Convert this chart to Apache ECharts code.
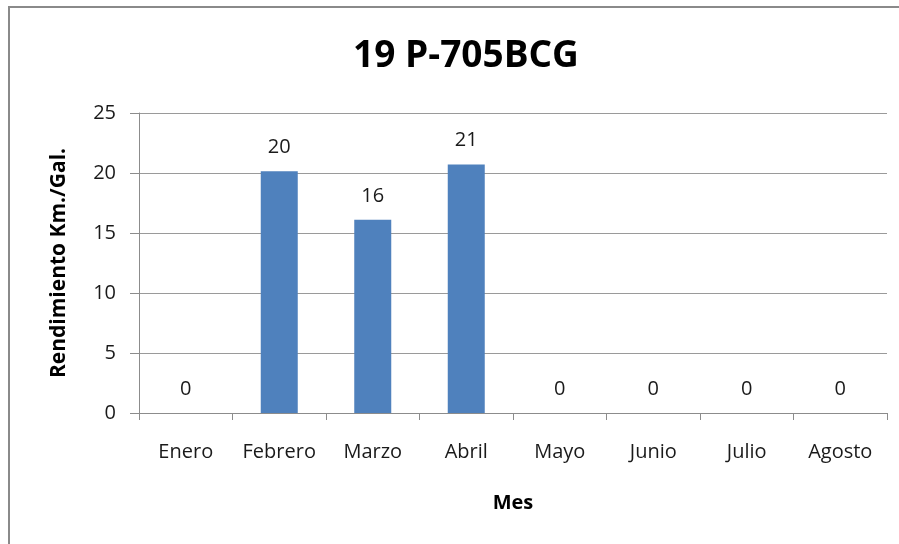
<!DOCTYPE html>
<html>
<head>
<meta charset="utf-8">
<script src="https://cdn.jsdelivr.net/npm/echarts@6/dist/echarts.min.js"></script>
<style>
  html, body { margin: 0; padding: 0; background: #fff; }
  #chart { width: 899px; height: 544px; }
</style>
</head>
<body>
<div id="chart"></div>
<script>
// Monthly fuel efficiency for unit 19 P-705BCG
const months = ['Enero', 'Febrero', 'Marzo', 'Abril', 'Mayo', 'Junio', 'Julio', 'Agosto'];
const rendimiento = [0, 20.15, 16.1, 20.7, 0, 0, 0, 0];
const yTicks = { min: 0, max: 25, interval: 5 };

const FONT = '"Open Sans"';
const chart = echarts.init(document.getElementById('chart'), null, { renderer: 'canvas' });

chart.setOption({
  backgroundColor: '#ffffff',
  animation: false,
  textStyle: { fontFamily: FONT },
  graphic: [{
    type: 'rect',
    shape: { x: 9, y: 7, width: 960, height: 600 },
    style: { fill: 'none', stroke: '#8a8a8a', lineWidth: 2 },
    silent: true
  }],
  title: {
    text: '19 P-705BCG',
    left: 461,
    textAlign: 'center',
    top: 33,
    textStyle: { fontFamily: FONT, fontSize: 37, fontWeight: 'bold', color: '#000' }
  },
  grid: { left: 139, right: 12, top: 113, bottom: 131, containLabel: false },
  xAxis: {
    type: 'category',
    data: months,
    name: 'Mes',
    nameLocation: 'middle',
    nameGap: 80,
    nameTextStyle: { fontFamily: FONT, fontSize: 20, fontWeight: 'bold', color: '#000' },
    axisLine: { lineStyle: { color: '#8c8c8c', width: 1 } },
    axisTick: { show: true, interval: 0, alignWithLabel: false, length: 7, lineStyle: { color: '#8c8c8c' } },
    axisLabel: { interval: 0, hideOverlap: false, margin: 29, fontFamily: FONT, fontSize: 20, color: '#1a1a1a' }
  },
  yAxis: {
    type: 'value',
    min: yTicks.min,
    max: yTicks.max,
    interval: yTicks.interval,
    name: 'Rendimiento Km./Gal.',
    nameLocation: 'middle',
    nameGap: 69,
    nameTextStyle: { fontFamily: FONT, fontSize: 21, fontWeight: 'bold', color: '#000' },
    axisLine: { show: true, lineStyle: { color: '#8c8c8c', width: 1 } },
    axisTick: { show: true, length: 9, lineStyle: { color: '#8c8c8c' } },
    axisLabel: { margin: 23, fontFamily: FONT, fontSize: 20, color: '#1a1a1a' },
    splitLine: { show: true, lineStyle: { color: '#9a9a9a', width: 1 } }
  },
  series: [{
    type: 'bar',
    data: rendimiento,
    barWidth: 37,
    itemStyle: { color: '#4f81bd' },
    label: {
      show: true,
      position: 'top',
      distance: 14,
      fontFamily: FONT,
      fontSize: 20,
      color: '#1a1a1a',
      formatter: p => String(Math.round(p.value))
    }
  }]
});
</script>
</body>
</html>
